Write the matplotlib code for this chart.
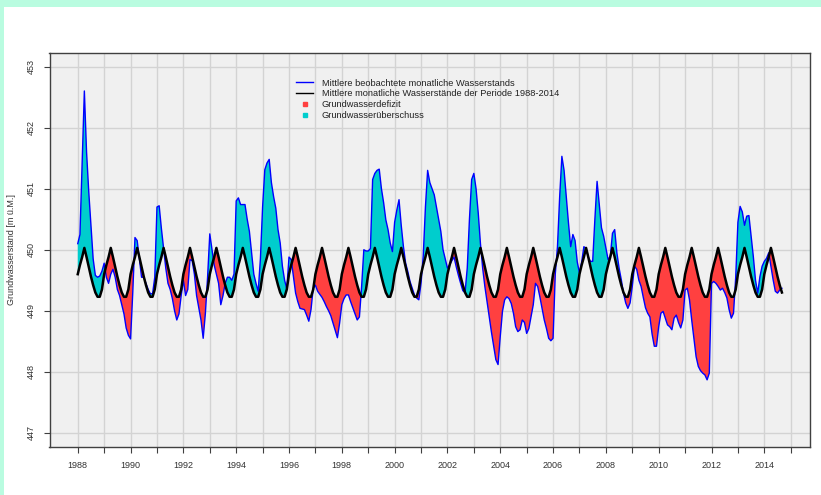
import numpy as np
import matplotlib
matplotlib.use('Agg')
import matplotlib.pyplot as plt
from matplotlib.lines import Line2D
from matplotlib.patches import Rectangle

plt.rcParams['font.family'] = ['Liberation Sans', 'DejaVu Sans']

# mean monthly level of the period 1988-2014 (Jan..Dec)
monthly_mean = [449.60, 449.75, 449.88, 450.03, 449.88, 449.72,
                449.56, 449.42, 449.30, 449.23, 449.23, 449.35]

# observed monthly means, Jan 1988 .. Sep 2014
observed = [
    450.10, 450.25, 451.40, 452.60, 451.60, 450.95, 450.40, 449.85, 449.58, 449.55, 449.57, 449.65,  # 1988
    449.78, 449.55, 449.45, 449.60, 449.68, 449.55, 449.35, 449.25, 449.10, 448.95, 448.72, 448.60,  # 1989
    448.54, 449.30, 450.20, 450.15, 449.85, 449.55, 449.55, 449.45, 449.35, 449.28, 449.28, 449.55,  # 1990
    450.70, 450.72, 450.35, 450.03, 449.70, 449.45, 449.35, 449.20, 449.00, 448.85, 448.95, 449.25,  # 1991
    449.50, 449.25, 449.35, 449.84, 449.82, 449.60, 449.25, 449.05, 448.85, 448.55, 448.96, 449.55,  # 1992
    450.26, 450.00, 449.75, 449.60, 449.45, 449.10, 449.25, 449.45, 449.55, 449.55, 449.50, 449.60,  # 1993
    450.80, 450.85, 450.74, 450.74, 450.74, 450.50, 450.30, 449.95, 449.60, 449.45, 449.32, 449.85,  # 1994
    450.70, 451.31, 451.42, 451.48, 451.10, 450.87, 450.68, 450.33, 450.11, 449.73, 449.50, 449.36,  # 1995
    449.88, 449.84, 449.56, 449.29, 449.15, 449.04, 449.03, 449.02, 448.93, 448.83, 449.02, 449.37,  # 1996
    449.42, 449.32, 449.27, 449.22, 449.15, 449.07, 449.00, 448.92, 448.80, 448.68, 448.56, 448.80,  # 1997
    449.10, 449.20, 449.26, 449.26, 449.15, 449.05, 448.95, 448.85, 448.90, 449.40, 450.00, 449.98,  # 1998
    449.98, 450.02, 451.15, 451.25, 451.30, 451.32, 451.00, 450.77, 450.49, 450.33, 450.11, 449.97,  # 1999
    450.45, 450.65, 450.82, 450.40, 450.05, 449.78, 449.64, 449.48, 449.37, 449.26, 449.21, 449.18,  # 2000
    449.45, 449.90, 450.70, 451.30, 451.10, 451.00, 450.90, 450.70, 450.50, 450.30, 450.00, 449.85,  # 2001
    449.70, 449.75, 449.82, 449.88, 449.72, 449.58, 449.45, 449.33, 449.30, 449.70, 450.50, 451.15,  # 2002
    451.25, 451.00, 450.60, 450.10, 449.70, 449.40, 449.15, 448.90, 448.65, 448.42, 448.20, 448.12,  # 2003
    448.58, 448.99, 449.18, 449.23, 449.20, 449.12, 448.96, 448.74, 448.66, 448.69, 448.85, 448.81,  # 2004
    448.63, 448.71, 448.91, 449.10, 449.45, 449.40, 449.23, 449.04, 448.85, 448.71, 448.55, 448.51,  # 2005
    448.55, 449.60, 450.05, 450.87, 451.53, 451.30, 450.87, 450.44, 450.05, 450.25, 450.15, 449.80,  # 2006
    449.62, 449.80, 450.05, 450.02, 449.88, 449.81, 449.81, 450.50, 451.12, 450.74, 450.36, 450.22,  # 2007
    450.03, 449.84, 449.89, 450.27, 450.33, 449.95, 449.70, 449.51, 449.29, 449.13, 449.04, 449.13,  # 2008
    449.40, 449.73, 449.68, 449.50, 449.40, 449.22, 449.05, 448.96, 448.90, 448.62, 448.42, 448.42,  # 2009
    448.74, 448.96, 448.99, 448.88, 448.77, 448.74, 448.69, 448.88, 448.93, 448.81, 448.72, 448.85,  # 2010
    449.34, 449.37, 449.18, 448.85, 448.55, 448.25, 448.09, 448.02, 447.98, 447.95, 447.87, 447.98,  # 2011
    449.45, 449.48, 449.45, 449.40, 449.34, 449.37, 449.30, 449.21, 449.02, 448.88, 448.96, 449.55,  # 2012
    450.45, 450.71, 450.62, 450.40, 450.55, 450.56, 450.22, 449.89, 449.50, 449.29, 449.56, 449.73,  # 2013
    449.81, 449.86, 449.95, 449.73, 449.51, 449.32, 449.29, 449.34, 449.37,                          # 2014
]

start_year = 1988
year_ticks = list(range(1988, 2016))
year_labels = [str(y) if y % 2 == 0 and y <= 2014 else '' for y in year_ticks]
level_ticks = [447, 448, 449, 450, 451, 452, 453]

obs = np.array(observed)
t = start_year + np.arange(len(obs)) / 12.0
mean = np.array([monthly_mean[i % 12] for i in range(len(obs))])

fig = plt.figure(figsize=(8.21, 4.95), dpi=100, facecolor='#b9fce0')
fig.patches.append(Rectangle((4 / 821, 0), 1, 1 - 7 / 495, transform=fig.transFigure,
                             facecolor='white', edgecolor='none', zorder=-10))
ax = fig.add_axes([49.5 / 821, 1 - 447 / 495, (810 - 49.5) / 821, (447 - 52.5) / 495])
ax.set_facecolor('#f0f0f0')

ax.fill_between(t, obs, mean, where=obs < mean, interpolate=True,
                color='#ff4040', linewidth=0, zorder=2)
ax.fill_between(t, obs, mean, where=obs >= mean, interpolate=True,
                color='#00cdcd', linewidth=0, zorder=2)
ax.plot(t, obs, color='#0000ff', linewidth=1.0, zorder=3)
ax.plot(t, mean, color='black', linewidth=1.8, zorder=4)

ax.set_xlim(1986.93, 2015.73)
ax.set_ylim(446.77, 453.23)
ax.set_xticks(year_ticks)
ax.set_xticklabels(year_labels)
ax.set_yticks(level_ticks)
ax.set_yticklabels([str(v) for v in level_ticks], rotation=90, va='center')
ax.grid(True, color='#d3d3d3', linewidth=1.0)
ax.set_axisbelow(True)
ax.tick_params(axis='both', direction='out', length=4, width=0.8, color='#404040',
               labelsize=6.5, labelcolor='#333333', pad=6)
for s in ax.spines.values():
    s.set_color('#404040')
    s.set_linewidth(1.0)

ax.set_ylabel('Grundwasserstand [m ü.M.]', fontsize=6.5, color='#333333', labelpad=8)

handles = [
    Line2D([], [], color='#0000ff', linewidth=1.0),
    Line2D([], [], color='black', linewidth=1.0),
    Line2D([], [], color='#ff4040', marker='s', markersize=3, linestyle='none'),
    Line2D([], [], color='#00cdcd', marker='s', markersize=3, linestyle='none'),
]
labels = ['Mittlere beobachtete monatliche Wasserstands',
          'Mittlere monatliche Wasserstände der Periode 1988-2014',
          'Grundwasserdefizit',
          'Grundwasserüberschuss']
fig.legend(handles, labels, loc='upper left', bbox_to_anchor=(296 / 821, 1 - 78.5 / 495),
           frameon=False, fontsize=6.7, borderpad=0, borderaxespad=0,
           handlelength=1.85, handletextpad=0.9, labelspacing=0.2, labelcolor='#222222')

plt.savefig('out.png', dpi=100, facecolor=fig.get_facecolor())
